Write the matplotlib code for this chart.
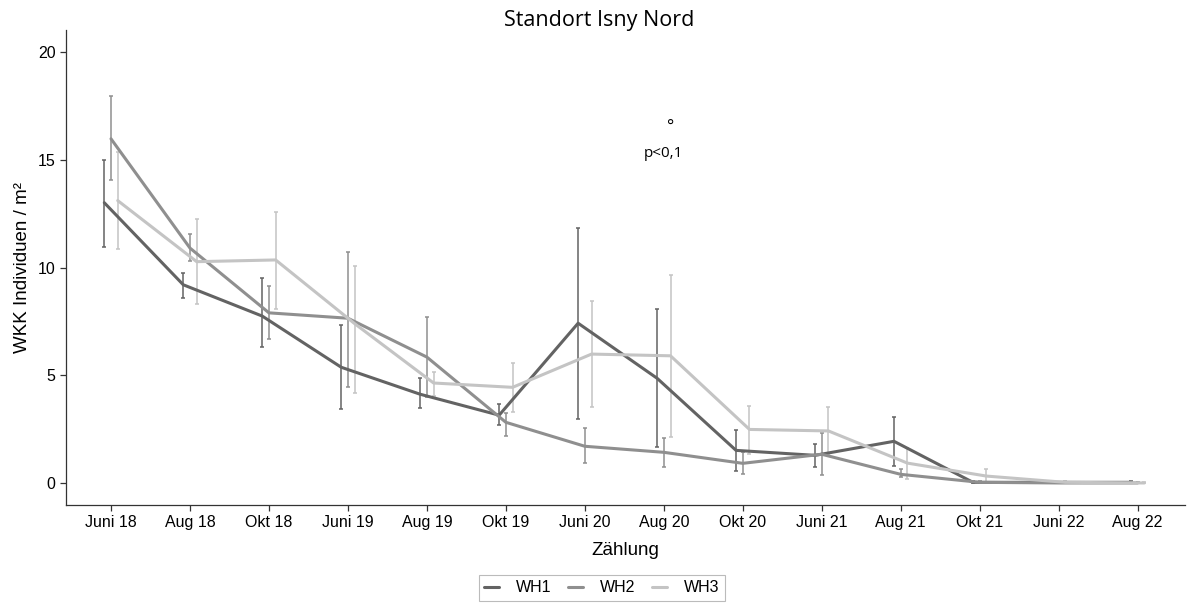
import numpy as np
import matplotlib.pyplot as plt

# Zählungen (Monat/Jahr)
zaehlung = ['Juni 18', 'Aug 18', 'Okt 18', 'Juni 19', 'Aug 19', 'Okt 19', 'Juni 20',
            'Aug 20', 'Okt 20', 'Juni 21', 'Aug 21', 'Okt 21', 'Juni 22', 'Aug 22']

# Mittelwerte WKK Individuen / m² je Variante
wh1 = [13.0, 9.2, 7.75, 5.38, 4.13, 3.16, 7.42, 4.87, 1.53, 1.3, 1.95, 0.05, 0.05, 0.05]
wh2 = [15.96, 10.9, 7.9, 7.65, 5.85, 2.83, 1.72, 1.44, 0.93, 1.35, 0.42, 0.05, 0.02, 0.02]
wh3 = [13.1, 10.27, 10.35, 7.4, 4.65, 4.45, 5.99, 5.91, 2.5, 2.43, 0.94, 0.34, 0.05, 0.02]

# Fehlerbalken (unten, oben)
wh1_lo = [10.95, 8.6, 6.3, 3.43, 3.48, 2.69, 3.0, 1.67, 0.56, 0.74, 0.8, 0.0, 0.0, 0.0]
wh1_hi = [15.0, 9.76, 9.5, 7.33, 4.87, 3.67, 11.83, 8.07, 2.46, 1.81, 3.08, 0.1, 0.1, 0.1]
wh2_lo = [14.06, 10.3, 6.7, 4.46, 4.0, 2.18, 0.93, 0.74, 0.42, 0.37, 0.28, 0.0, 0.0, 0.0]
wh2_hi = [17.93, 11.55, 9.14, 10.72, 7.7, 3.25, 2.55, 2.09, 1.44, 2.32, 0.65, 0.1, 0.05, 0.05]
wh3_lo = [10.86, 8.3, 8.1, 4.19, 4.04, 3.29, 3.53, 2.15, 1.35, 1.3, 0.19, 0.05, 0.0, 0.0]
wh3_hi = [15.37, 12.25, 12.59, 10.08, 5.16, 5.57, 8.46, 9.65, 3.59, 3.53, 1.64, 0.65, 0.1, 0.05]

serien = [
    ('WH1', wh1, wh1_lo, wh1_hi, '#636363', -0.085),
    ('WH2', wh2, wh2_lo, wh2_hi, '#8f8f8f', 0.0),
    ('WH3', wh3, wh3_lo, wh3_hi, '#c4c4c4', 0.085),
]

plt.rcParams['font.family'] = ['Liberation Sans', 'DejaVu Sans']

fig = plt.figure(figsize=(11.92, 6.03), dpi=100)
ax = fig.add_axes([66 / 1192, 1 - 505 / 603, (1185 - 66) / 1192, (505 - 30) / 603])

x = np.arange(len(zaehlung))
for name, y, lo, hi, col, dx in serien:
    y = np.array(y)
    err = [y - np.array(lo), np.array(hi) - y]
    ax.errorbar(x + dx, y, yerr=err, fmt='none', ecolor=col, elinewidth=1.1,
                capsize=1.5, capthick=1.1, zorder=2)
    ax.plot(x + dx, y, color=col, lw=2.2, label=name, zorder=3,
            solid_joinstyle='round', solid_capstyle='round')

ax.set_xlim(-0.57, len(zaehlung) - 0.4)
ax.set_ylim(-1.0, 21.0)
ax.set_xticks(x)
ax.set_xticklabels(zaehlung)
ax.set_yticks([0, 5, 10, 15, 20])
ax.tick_params(axis='both', labelsize=11.5, colors='#333333', length=4, width=0.9,
               labelcolor='black')

for s in ['top', 'right']:
    ax.spines[s].set_visible(False)
for s in ['left', 'bottom']:
    ax.spines[s].set_color('#333333')
    ax.spines[s].set_linewidth(0.9)

ax.set_xlabel('Zählung', fontsize=13.5, labelpad=8)
ax.set_ylabel('WKK Individuen / m²', fontsize=13.5, labelpad=5)
fig.text(0.503, 0.966, 'Standort Isny Nord', ha='center', va='center', fontsize=15.5,
         family=['Open Sans', 'DejaVu Sans'])

# Signifikanz Aug 20
ax.text(7.09, 16.45, '°', ha='center', va='center', fontsize=12, family=['Open Sans', 'DejaVu Sans'])
ax.text(7.0, 15.3, 'p<0,1', ha='center', va='center', fontsize=11, family=['Open Sans', 'DejaVu Sans'])

leg = fig.legend(loc='center', bbox_to_anchor=(602 / 1192, 1 - 588 / 603), ncol=3,
                 frameon=True, fancybox=False, fontsize=11.5, handlelength=0.9,
                 columnspacing=1.05, handletextpad=1.1, borderpad=0.35)
leg.get_frame().set_edgecolor('#aaaaaa')
leg.get_frame().set_linewidth(0.8)

fig.savefig('out.png', dpi=100)
